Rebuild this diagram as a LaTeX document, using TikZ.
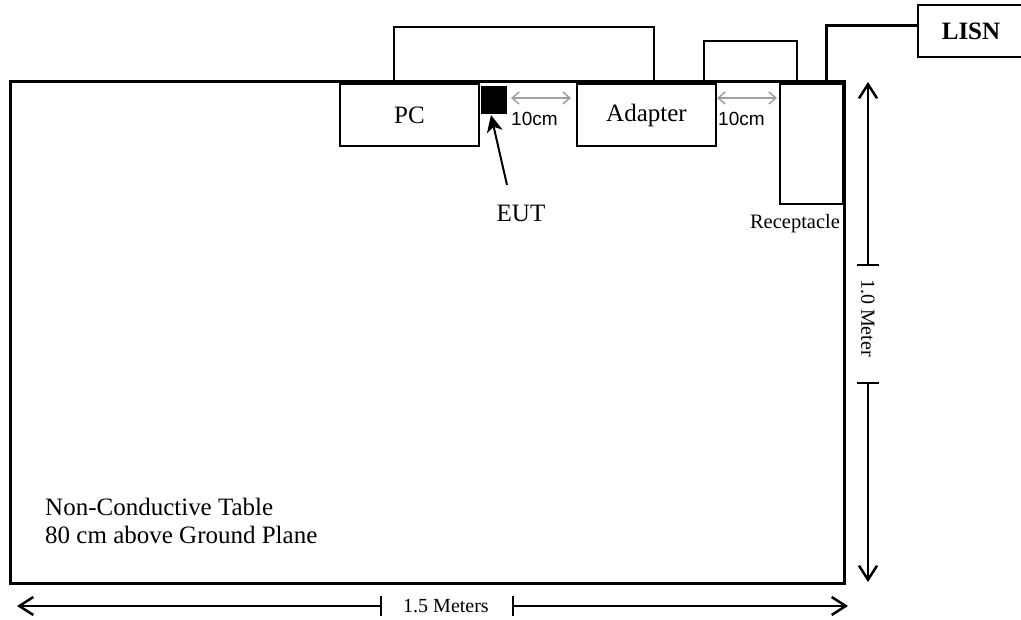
\documentclass[tikz,border=0pt]{standalone}
\usepackage{fontspec}
\setmainfont{Liberation Serif}
\newfontfamily\arialfont{Liberation Sans}
\usetikzlibrary{arrows.meta}
\begin{document}
\begin{tikzpicture}[x=1pt,y=-1pt,
  box/.style={draw,line width=1.5pt,inner sep=0pt,outer sep=0pt},
  mainlbl/.style={inner sep=0pt,font=\fontsize{25}{28}\selectfont},
  smalllbl/.style={inner sep=0pt,font=\fontsize{20}{24}\selectfont},
  cmlbl/.style={inner sep=0pt,anchor=west,font=\arialfont\fontsize{19}{22}\selectfont},
  cable/.style={line width=1.5pt},
  thickcable/.style={line width=3pt},
  dimline/.style={line width=1.5pt},
  dimarrow/.style={line width=1.5pt,-{Straight Barb[length=14pt,width=18pt,line width=2.5pt]}},
  gaparrow/.style={line width=1.5pt,draw={rgb,255:red,160;green,160;blue,160},{Straight Barb[length=7pt,width=12pt]}-{Straight Barb[length=7pt,width=12pt]}},
  eutarrow/.style={line width=2pt,-{Stealth[length=17pt,width=16pt,inset=5pt]}}
]
\useasboundingbox (0,0) rectangle (1021,620);
\fill[white] (0,0) rectangle (1021,620);

% cables (drawn first, behind the table top)
\coordinate (c1a) at (394,82);
\coordinate (c1b) at (654,82);
\draw[cable] (c1a) -- (394,27) -- (654,27) -- (c1b);
\coordinate (c2a) at (704,82);
\coordinate (c2b) at (797,82);
\draw[cable] (c2a) -- (704,41) -- (797,41) -- (c2b);

% LISN
\node[box,minimum width=106pt,minimum height=52pt,font=\bfseries\fontsize{25}{28}\selectfont] (lisn) at (971,31) {LISN};
\coordinate (c3a) at (826,82);
\draw[thickcable] (c3a) -- (826,26) -- (lisn.west |- 0,26);

% table
\node[draw,line width=3pt,inner sep=0pt,minimum width=834pt,minimum height=501pt] (table) at (427,332.5) {};

% equipment
\node[box,minimum width=139pt,minimum height=62pt,mainlbl] (pc) at (409.5,115) {PC};
\node[box,minimum width=139pt,minimum height=62pt,mainlbl] (adapter) at (646.5,115) {Adapter};
\node[box,minimum width=63pt,minimum height=120pt] (recept) at (811.5,144) {};
\node[draw,fill=black,line width=1pt,inner sep=0pt,minimum width=25pt,minimum height=27pt] (eut) at (493.5,100.5) {};

% labels
\node[mainlbl] (eutlbl) at (521,213.5) {EUT};
\node[smalllbl,anchor=base,font=\fontsize{20.5}{24}\selectfont] (reclbl) at (795,229) {Receptacle};
\node[mainlbl,anchor=base west] (tbl1) at (45,515) {Non-Conductive Table};
\node[mainlbl,anchor=base west] (tbl2) at (45,543) {80 cm above Ground Plane};

% EUT pointer
\coordinate (euttail) at (507,185);
\draw[eutarrow] (euttail) -- (491,115);

% 10 cm gaps
\draw[gaparrow] (pc.east -| 511,0) ++(0,-17) coordinate (g1a) (g1a) -- (571,98);
\node[cmlbl] (cm1) at (511,119) {10cm};
\draw[gaparrow] (717,98) coordinate (g2a) -- (777,98) coordinate (g2b);
\node[cmlbl] (cm2) at (718,119) {10cm};

% vertical dimension (1.0 Meter)
\node[smalllbl,rotate=-90] (vlbl) at (868,318) {1.0 Meter};
\coordinate (vt1) at (868,265);
\coordinate (vt2) at (868,383);
\draw[dimline] (857,265) -- (879,265);
\draw[dimline] (857,383) -- (879,383);
\draw[dimarrow] (vt1) -- (868,82);
\draw[dimarrow] (vt2) -- (868,582);

% horizontal dimension (1.5 Meters)
\node[smalllbl] (hlbl) at (446,606) {1.5 Meters};
\coordinate (ht1) at (381,606);
\coordinate (ht2) at (513,606);
\draw[dimline] (381,596) -- (381,616);
\draw[dimline] (513,596) -- (513,616);
\draw[dimarrow] (ht1) -- (17,606);
\draw[dimarrow] (ht2) -- (848,606);
\end{tikzpicture}
\end{document}
